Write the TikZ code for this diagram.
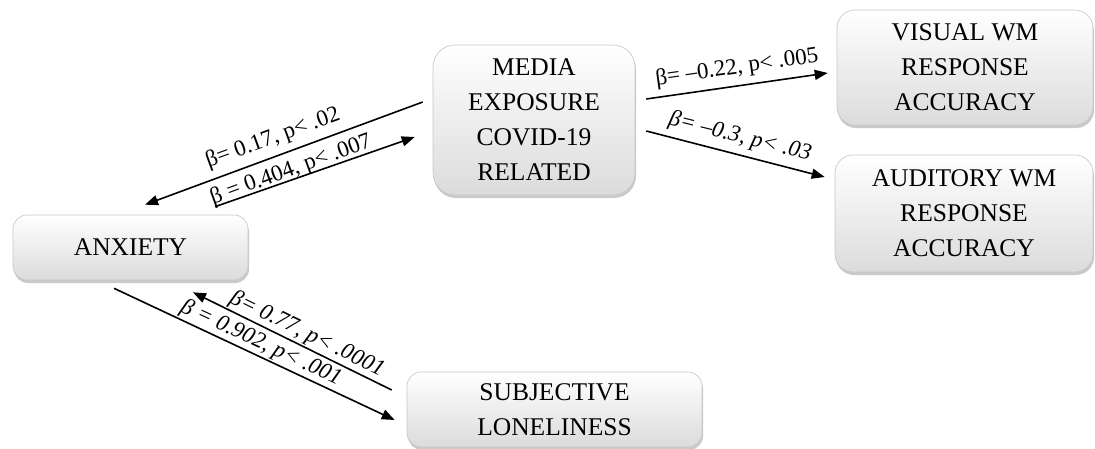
\documentclass[tikz,border=0pt]{standalone}
\usepackage{fontspec}
\setmainfont{Liberation Serif}
\usetikzlibrary{arrows.meta,shadows}
\begin{document}
\begin{tikzpicture}[x=1pt,y=-1pt,
  box/.style={draw=gray!45, line width=0.6pt, rounded corners=14pt,
    top color=white, bottom color=gray!28, align=center, inner sep=0pt,
    font=\fontsize{25.5}{35}\selectfont,
    drop shadow={shadow xshift=1pt, shadow yshift=-3pt, opacity=0.35, fill=black!60}},
  arr/.style={line width=1.6pt, -{Triangle[length=13pt,width=10pt]}},
  lab/.style={inner sep=0pt, font=\fontsize{23}{23}\selectfont},
  itlab/.style={lab, font=\fontsize{23}{23}\selectfont\itshape}
]
\useasboundingbox (0,0) rectangle (1095,448);
\node[box, minimum width=235pt, minimum height=65pt] (anx) at (130.5,247.5) {ANXIETY};
\node[box, minimum width=202pt, minimum height=150pt, rounded corners=22pt] (media) at (534,120) {MEDIA\\EXPOSURE\\COVID-19\\RELATED};
\node[box, minimum width=256pt, minimum height=115pt, rounded corners=18pt] (vis) at (965,67.5) {VISUAL WM\\RESPONSE\\ACCURACY};
\node[box, minimum width=258pt, minimum height=117pt, rounded corners=18pt] (aud) at (964,213.5) {AUDITORY WM\\RESPONSE\\ACCURACY};
\node[box, minimum width=295pt, minimum height=75pt] (lone) at (554.5,409.5) {SUBJECTIVE\\LONELINESS};

\draw[arr] ([shift={(-10,-18)}]media.west) -- ([shift={(14.5,-10)}]anx.north);
\draw[arr] ([shift={(84.5,-8)}]anx.north) -- ([shift={(-18,17)}]media.west);
\draw[arr] ([shift={(11,-21)}]media.east) -- ([shift={(-9,5.5)}]vis.west);
\draw[arr] ([shift={(11,11)}]media.east) -- ([shift={(-10,-36.5)}]aud.west);
\draw[arr] ([shift={(-16.5,8)}]anx.south) -- ([shift={(-12,10.5)}]lone.west);
\draw[arr] ([shift={(-15,-19.5)}]lone.west) -- ([shift={(62.5,12)}]anx.south);

\node[lab, rotate=20] (l1) at (273,138) {β= 0.17, p< .02};
\node[lab, rotate=20] (l2) at (291,170) {β = 0.404, p< .007};
\node[lab, rotate=8] (l3) at (737,68) {β= –0.22, p< .005};
\node[itlab, rotate=-14] (l4) at (740,137) {β= –0.3, p< .03};
\node[itlab, rotate=-26] (l5) at (307,334) {β= 0.77, p< .0001};
\node[itlab, rotate=-25] (l6) at (261,343) {β = 0.902, p< .001};
\end{tikzpicture}
\end{document}
